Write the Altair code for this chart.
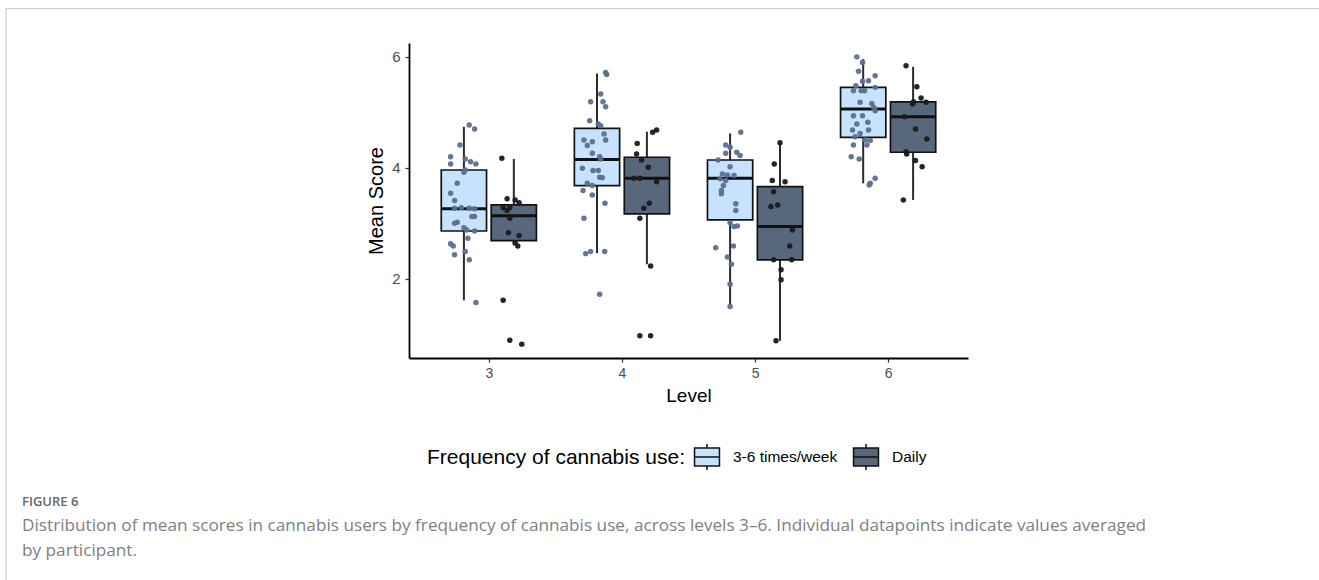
import altair as alt
import pandas as pd

# ---- data -----------------------------------------------------------------
LIGHT = "3-6 times/week"
DARK = "Daily"

box_level = [3, 3, 4, 4, 5, 5, 6, 6]
box_group = [LIGHT, DARK, LIGHT, DARK, LIGHT, DARK, LIGHT, DARK]
whisker_lo = [1.61, 2.60, 2.46, 2.26, 1.51, 0.88, 3.72, 3.42]
box_q1 = [2.86, 2.685, 3.68, 3.17, 3.06, 2.34, 4.55, 4.28]
box_median = [3.26, 3.135, 4.15, 3.81, 3.81, 2.94, 5.06, 4.92]
box_q3 = [3.96, 3.33, 4.71, 4.19, 4.14, 3.66, 5.45, 5.19]
whisker_hi = [4.74, 4.16, 5.70, 4.65, 4.62, 4.45, 5.96, 5.82]

# participant means (value, horizontal jitter in level units), per level and group
pts_3_light = [4.77, 4.70, 4.41, 4.20, 4.07, 4.16, 4.11, 4.07, 3.96, 3.92, 3.72, 3.54,
               3.41, 3.27, 3.28, 3.27, 3.26, 3.12, 3.12, 3.00, 3.02, 2.92, 2.88, 2.86,
               2.73, 2.63, 2.59, 2.43, 2.49, 2.34, 1.57]
jit_3_light = [0.04, 0.08, -0.03, -0.10, -0.10, 0.01, 0.05, 0.09, 0.01, 0.00, -0.05, -0.10,
               -0.07, -0.07, -0.02, 0.04, 0.08, 0.06, 0.08, -0.07, -0.05, 0.00, 0.02, 0.08,
               0.03, -0.10, -0.08, -0.07, 0.01, 0.04, 0.09]
pts_3_dark = [4.17, 3.44, 3.42, 3.37, 3.28, 3.28, 3.23, 3.09, 2.83, 2.78, 2.65, 2.59,
              1.61, 0.89, 0.82]
jit_3_dark = [-0.09, -0.05, 0.01, 0.04, -0.08, -0.03, -0.05, -0.03, -0.04, 0.04, 0.01, 0.03,
              -0.08, -0.03, 0.06]

pts_4_light = [5.72, 5.68, 5.33, 5.19, 5.19, 5.10, 4.85, 4.79, 4.76, 4.61, 4.50, 4.47,
               4.40, 4.50, 4.26, 4.20, 4.16, 3.99, 3.95, 3.95, 3.83, 3.82, 3.72, 3.68,
               3.59, 3.51, 3.36, 3.09, 2.45, 2.49, 2.49, 1.72]
jit_4_light = [0.065, 0.073, 0.028, -0.048, 0.045, 0.065, -0.055, 0.01, 0.028, 0.053, -0.098, -0.035,
               -0.073, 0.065, -0.035, 0.02, 0.028, -0.11, -0.03, 0.01, 0.02, 0.04, -0.073, -0.035,
               -0.105, -0.035, 0.06, -0.098, -0.085, -0.048, 0.058, 0.02]
pts_4_dark = [4.68, 4.64, 4.44, 4.25, 4.14, 4.01, 3.81, 3.81, 3.75, 3.36, 3.27, 3.09,
              2.23, 0.97, 0.97]
jit_4_dark = [0.073, 0.043, -0.073, -0.078, -0.04, 0.01, -0.098, -0.053, 0.073, 0.018, -0.023, -0.053,
              0.028, -0.053, 0.028]

pts_5_light = [4.64, 4.41, 4.37, 4.26, 4.28, 4.22, 4.14, 4.02, 3.89, 3.87, 3.86, 3.80,
               3.77, 3.68, 3.59, 3.53, 3.35, 3.23, 3.01, 2.94, 2.95, 2.56, 2.59, 2.39,
               2.26, 1.90, 1.50]
jit_5_light = [0.08, -0.033, 0.0, -0.033, 0.05, 0.075, -0.09, 0.0, -0.058, -0.02, 0.03, -0.075,
               -0.033, -0.05, -0.065, -0.065, 0.043, 0.043, 0.0, 0.03, 0.055, -0.108, 0.025, -0.02,
               0.01, 0.0, 0.0]
pts_5_dark = [4.45, 4.07, 3.77, 3.75, 3.57, 3.30, 3.33, 2.88, 2.59, 2.34, 2.34, 2.16,
              1.98, 0.88]
jit_5_dark = [0.0, -0.043, -0.058, 0.038, -0.048, -0.068, -0.018, 0.093, 0.073, -0.048, 0.088, 0.008,
              0.008, -0.03]

pts_6_light = [6.00, 5.90, 5.74, 5.66, 5.57, 5.56, 5.48, 5.39, 5.39, 5.39, 5.45, 5.18,
               5.16, 5.09, 5.03, 4.94, 4.94, 4.82, 4.79, 4.68, 4.62, 4.68, 4.56, 4.50,
               4.49, 4.41, 4.41, 4.20, 4.16, 3.81, 3.72, 3.69]
jit_6_light = [-0.048, -0.005, -0.035, 0.09, 0.04, -0.005, -0.055, -0.073, -0.015, 0.01, 0.09, -0.023,
               0.065, 0.078, 0.09, -0.073, -0.005, 0.035, -0.048, -0.08, -0.023, 0.04, -0.06, 0.015,
               0.053, -0.073, 0.028, -0.09, -0.03, 0.09, 0.053, 0.045]
pts_6_dark = [5.84, 5.46, 5.19, 5.15, 5.26, 5.18, 4.92, 4.70, 4.52, 4.29, 4.25, 4.13,
              4.02, 3.42]
jit_6_dark = [-0.053, 0.028, 0.003, -0.003, 0.06, 0.098, -0.065, 0.018, 0.103, -0.053, -0.048, 0.018,
              0.068, -0.073]

caption_label = "FIGURE 6"
caption_line1 = ("Distribution of mean scores in cannabis users by frequency of cannabis use, "
                 "across levels 3\u20136. Individual datapoints indicate values averaged")
caption_line2 = "by participant."

# ---- layout constants -------------------------------------------------------
DODGE = {LIGHT: -0.1875, DARK: 0.1875}
HALF = 0.17
FILLS = ["#c6e2ff", "#58687c"]
POINT_COLORS = ["#5a7090", "#1a1a1a"]
FONT = "Liberation Sans"

boxes = pd.DataFrame({
    "level": box_level, "group": box_group, "lo": whisker_lo, "q1": box_q1,
    "median": box_median, "q3": box_q3, "hi": whisker_hi,
})
boxes["cx"] = boxes["level"] + boxes["group"].map(DODGE)
boxes["left"] = boxes["cx"] - HALF
boxes["right"] = boxes["cx"] + HALF

rows = []
for lvl, grp, vals, jit in [
    (3, LIGHT, pts_3_light, jit_3_light), (3, DARK, pts_3_dark, jit_3_dark),
    (4, LIGHT, pts_4_light, jit_4_light), (4, DARK, pts_4_dark, jit_4_dark),
    (5, LIGHT, pts_5_light, jit_5_light), (5, DARK, pts_5_dark, jit_5_dark),
    (6, LIGHT, pts_6_light, jit_6_light), (6, DARK, pts_6_dark, jit_6_dark),
]:
    for v, j in zip(vals, jit):
        rows.append({"level": lvl, "group": grp, "score": v, "px": lvl + DODGE[grp] + j})
points = pd.DataFrame(rows)

x_scale = alt.Scale(domain=[2.4, 6.6], nice=False, zero=False)
y_scale = alt.Scale(domain=[0.57, 6.25], nice=False, zero=False)

x_axis = alt.Axis(values=[3, 4, 5, 6], format="d", title="Level", grid=False,
                  domainColor="black", domainWidth=1.8, tickColor="#333333", tickSize=4,
                  tickWidth=1.2, labelFontSize=14, labelColor="#4d4d4d", labelPadding=4,
                  titleFontSize=19, titleFontWeight="normal", titleColor="black",
                  titlePadding=6, labelFont=FONT, titleFont=FONT)
y_axis = alt.Axis(values=[2, 4, 6], format="d", title="Mean Score", grid=False,
                  domainColor="black", domainWidth=1.8, tickColor="#333333", tickSize=4,
                  tickWidth=1.2, labelFontSize=15, labelColor="#4d4d4d", labelPadding=5,
                  titleFontSize=20, titleFontWeight="normal", titleColor="black",
                  titlePadding=5, labelFont=FONT, titleFont=FONT)

# boxplot key glyph: box, median bar and whisker stubs
KEY_PATH = ("M-0.96,-0.69 H0.96 V0.69 H-0.96 Z M-0.96,0 H0.96 "
            "M0,-1 V-0.69 M0,0.69 V1")

whiskers = alt.Chart(boxes).mark_rule(color="#2b2b2b", strokeWidth=2).encode(
    x=alt.X("cx:Q", scale=x_scale, axis=x_axis),
    y=alt.Y("lo:Q", scale=y_scale, axis=y_axis),
    y2="hi:Q",
)

box_rects = alt.Chart(boxes).mark_rect(stroke="#111111", strokeWidth=1.7).encode(
    x=alt.X("left:Q", scale=x_scale),
    x2="right:Q",
    y=alt.Y("q1:Q", scale=y_scale),
    y2="q3:Q",
    fill=alt.Fill(
        "group:N",
        scale=alt.Scale(domain=[LIGHT, DARK], range=FILLS),
        legend=alt.Legend(
            title="Frequency of cannabis use:", orient="none", legendX=18, legendY=400,
            direction="horizontal", titleOrient="left", titleFontSize=21,
            titleFontWeight="normal", titleColor="black", titleFont=FONT,
            titleBaseline="middle", titlePadding=8, titleLimit=500,
            labelFontSize=15.5, labelColor="black", labelFont=FONT, labelOffset=12,
            columnPadding=12, symbolType=KEY_PATH, symbolSize=676,
            symbolStrokeColor="#111111", symbolStrokeWidth=1.5, symbolOpacity=1,
        ),
    ),
)

medians = alt.Chart(boxes).mark_rule(color="#111111", strokeWidth=3).encode(
    x=alt.X("left:Q", scale=x_scale),
    x2="right:Q",
    y=alt.Y("median:Q", scale=y_scale),
)

dots = alt.Chart(points).mark_circle(size=30, opacity=0.95).encode(
    x=alt.X("px:Q", scale=x_scale),
    y=alt.Y("score:Q", scale=y_scale),
    color=alt.Color("group:N", scale=alt.Scale(domain=[LIGHT, DARK], range=POINT_COLORS),
                    legend=None),
)

# figure frame and caption
frame_top = alt.Chart(pd.DataFrame({"k": [0]})).mark_rule(color="#cccccc", strokeWidth=1.2).encode(
    x=alt.value(-403), x2=alt.value(910), y=alt.value(-34.5))
frame_left = alt.Chart(pd.DataFrame({"k": [0]})).mark_rule(color="#cccccc", strokeWidth=1.2).encode(
    x=alt.value(-403), y=alt.value(-34.5), y2=alt.value(537))

cap_label = alt.Chart(pd.DataFrame({"t": [caption_label]})).mark_text(
    align="left", baseline="middle", font="Open Sans", fontSize=13, fontWeight=600,
    color="#666666").encode(x=alt.value(-387), y=alt.value(459), text="t:N")
cap_1 = alt.Chart(pd.DataFrame({"t": [caption_line1]})).mark_text(
    align="left", baseline="middle", font="Open Sans", fontSize=17.2,
    color="#808080").encode(x=alt.value(-387), y=alt.value(483), text="t:N")
cap_2 = alt.Chart(pd.DataFrame({"t": [caption_line2]})).mark_text(
    align="left", baseline="middle", font="Open Sans", fontSize=17.2,
    color="#808080").encode(x=alt.value(-387), y=alt.value(508), text="t:N")

chart = alt.layer(
    whiskers, box_rects, medians, dots, frame_top, frame_left, cap_label, cap_1, cap_2
).properties(
    width=559, height=315,
    autosize=alt.AutoSizeParams(type="none"),
    padding={"left": 409, "top": 43, "right": 351, "bottom": 222},
    background="white",
).configure_view(stroke=None)

chart.save("out.html", embed_options={"renderer": "svg", "actions": False})
